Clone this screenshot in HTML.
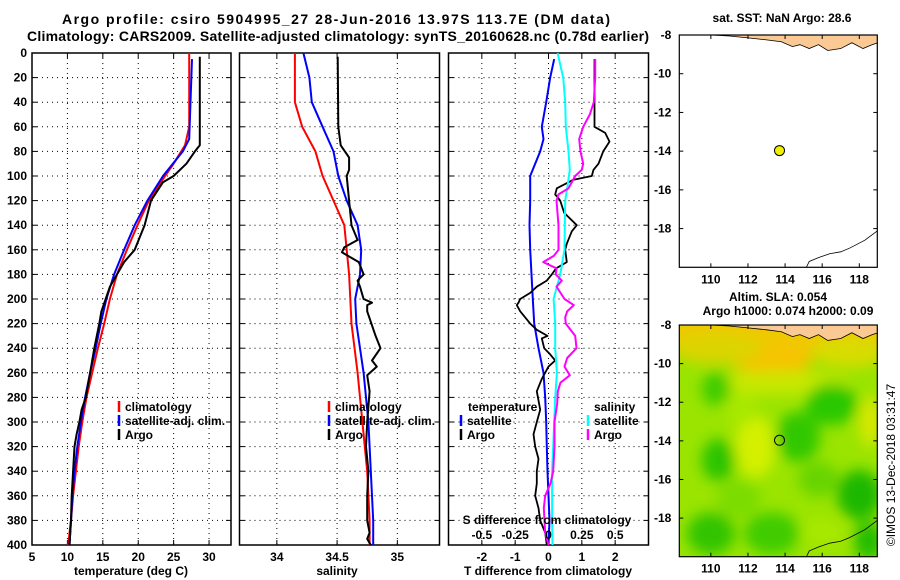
<!DOCTYPE html>
<html><head><meta charset="utf-8"><style>
html,body{margin:0;padding:0;background:#fff;}
svg{display:block;font-family:"Liberation Sans",sans-serif;font-weight:bold;}
</style></head><body>
<svg id="fig" width="900" height="580" viewBox="0 0 900 580">
<defs>
<filter id="blur" x="-20%" y="-20%" width="140%" height="140%"><feGaussianBlur stdDeviation="7"/></filter>
<clipPath id="clipMap2"><rect x="679" y="325" width="198" height="232"/></clipPath>
<clipPath id="clipMap1"><rect x="679" y="35" width="198" height="232"/></clipPath>
</defs>
<text x="336" y="24" text-anchor="middle" font-size="14" textLength="548">Argo profile: csiro 5904995_27 28-Jun-2016 13.97S 113.7E (DM data)</text>
<text x="338" y="41" text-anchor="middle" font-size="14" textLength="622">Climatology: CARS2009. Satellite-adjusted climatology: synTS_20160628.nc (0.78d earlier)</text>
<text x="782" y="22" text-anchor="middle" font-size="12">sat. SST: NaN Argo: 28.6</text>
<text x="778" y="301" text-anchor="middle" font-size="12">Altim. SLA: 0.054</text>
<text x="788" y="315" text-anchor="middle" font-size="12">Argo h1000: 0.074 h2000: 0.09</text>
<text transform="translate(895,465) rotate(-90)" text-anchor="middle" font-size="12" font-weight="normal">©IMOS 13-Dec-2018 03:31:47</text>
<g id="layer"></g>
</svg>
<script>
// ---- depth ticks ----
const depthTicks = [0,20,40,60,80,100,120,140,160,180,200,220,240,260,280,300,320,340,360,380,400];
// ---- temperature panel ----
const tempTicks = [5,10,15,20,25,30];
const tempClimDepth = [0,60,75,90,100,120,140,160,180,200,220,240,260,280,300,320,340,360,380,400];
const tempClim = [27.2,27.2,26.6,25.0,23.8,21.5,19.9,18.4,17.0,16.0,15.2,14.3,13.5,12.7,12.1,11.6,11.2,10.8,10.5,10.1];
const tempSatDepth = [5,70,80,100,120,140,160,180,200,220,240,260,280,300,320,340,360,380,400];
const tempSat = [27.6,27.2,26.3,23.5,21.3,19.5,18.0,16.6,15.5,14.7,14.0,13.2,12.5,11.9,11.4,11.0,10.7,10.5,10.3];
const tempArgoDepth = [3,75,80,90,100,105,120,140,160,170,180,190,200,210,220,240,260,280,290,300,310,320,340,360,380,400];
const tempArgo = [28.7,28.7,28.0,26.8,25.0,23.5,21.8,20.9,19.5,18.0,17.0,16.0,15.4,14.8,14.5,13.8,13.2,12.6,12.0,11.7,11.3,11.0,10.8,10.6,10.5,10.3];
// ---- salinity panel ----
const salTicks = [34,34.5,35];
const salTickLabels = ["34","34.5","35"];
const salClimDepth = [0,40,60,80,100,120,140,160,180,200,220,260,300,340,380,400];
const salClim = [34.15,34.15,34.21,34.32,34.38,34.47,34.56,34.58,34.60,34.61,34.62,34.67,34.71,34.75,34.77,34.77];
const salSatDepth = [0,20,40,60,80,100,120,140,160,180,200,220,260,300,340,380,400];
const salSat = [34.22,34.27,34.29,34.38,34.47,34.51,34.58,34.67,34.70,34.69,34.65,34.66,34.72,34.76,34.78,34.80,34.80];
const salArgoDepth = [3,60,75,85,95,100,120,140,152,158,162,170,180,185,190,200,203,205,210,230,240,250,255,262,275,300,320,340,360,380,390,395,400];
const salArgo = [34.505,34.51,34.53,34.60,34.60,34.58,34.60,34.62,34.67,34.56,34.54,34.68,34.72,34.67,34.69,34.72,34.79,34.75,34.75,34.82,34.86,34.79,34.83,34.75,34.77,34.75,34.74,34.76,34.75,34.75,34.77,34.75,34.78];
// ---- difference panel ----
const tdiffTicks = [-2,-1,0,1,2];
const sdiffTicks = [-0.5,-0.25,0,0.25,0.5];
const sdiffTickLabels = ["-0.5","-0.25","0","0.25","0.5"];
const tSatDiffDepth = [5,20,40,60,70,80,100,120,140,160,200,220,240,260,280,300,320,340,360,380,400];
const tSatDiff = [0.17,0.05,-0.07,-0.2,-0.15,-0.25,-0.55,-0.55,-0.57,-0.55,-0.47,-0.43,-0.3,-0.15,-0.1,-0.07,-0.05,-0.03,0.0,0.03,0.0];
const tArgoDiffDepth = [5,60,65,72,80,90,95,100,103,110,115,120,130,140,145,155,160,170,175,180,185,190,195,200,203,205,210,215,220,225,230,232,240,245,250,255,265,275,290,300,310,320,330,340,350,360,370,380,390,400];
const tArgoDiff = [1.38,1.38,1.7,1.83,1.64,1.5,1.35,1.3,0.75,0.25,0.2,0.35,0.47,0.85,0.7,0.55,0.5,0.55,0.23,0.1,-0.05,-0.35,-0.55,-0.85,-0.9,-0.95,-0.85,-0.7,-0.55,-0.35,-0.03,-0.2,-0.13,0.05,0.2,0.0,-0.2,-0.35,-0.25,-0.35,-0.45,-0.4,-0.3,-0.35,-0.35,-0.4,-0.3,-0.25,-0.1,-0.05];
const sSatDiffDepth = [0,20,40,60,80,95,110,120,160,180,200,220,240,260,280,300,320,340,360,380,400];
const sSatDiff = [0.068,0.11,0.125,0.13,0.15,0.16,0.14,0.125,0.12,0.088,0.038,0.05,0.05,0.063,0.05,0.043,0.035,0.027,0.027,0.027,0.03];
const sArgoDiffDepth = [5,20,40,50,60,70,80,90,95,100,110,115,120,140,160,165,170,175,180,185,190,200,205,210,215,220,230,240,248,255,262,268,275,285,300,320,340,350,360,370,380,390,400];
const sArgoDiff = [0.35,0.35,0.34,0.31,0.26,0.23,0.24,0.26,0.25,0.2,0.15,0.075,0.06,0.075,0.075,0.04,-0.04,0.06,0.055,0.1,0.06,0.12,0.19,0.14,0.125,0.13,0.2,0.21,0.14,0.12,0.16,0.09,0.07,0.065,0.045,0.045,0.035,0.015,-0.025,-0.035,-0.03,-0.025,0.0];
// ---- maps ----
const lonTicks = [110,112,114,116,118];
const latTicks = [-8,-10,-12,-14,-16,-18];
const argoLon = [113.7];
const argoLat = [-13.97];

const NS = "http://www.w3.org/2000/svg";
const layer = document.getElementById("layer");
function mk(tag, attrs, parent){ const e=document.createElementNS(NS,tag); for(const k in attrs) e.setAttribute(k,attrs[k]); (parent||layer).appendChild(e); return e; }

const Y0=53, Y1=545;
function yDepth(d){ return Y0 + (d/400)*(Y1-Y0); }
function linScale(d0,d1,r0,r1){ return v => r0 + (v-d0)/(d1-d0)*(r1-r0); }

function panel(name, x0, x1, xs, xticks, xlabels, showY){
  const g = mk("g",{});
  
  
  depthTicks.forEach(d=>{
    if(d>0 && d<400){ const l=mk("line",{x1:x0,x2:x1,y1:yDepth(d),y2:yDepth(d),stroke:"#000","stroke-width":1,"stroke-dasharray":"1,4"},g);
        }
    mk("line",{x1:x0,x2:x0+5,y1:yDepth(d),y2:yDepth(d),stroke:"#000"},g);
    mk("line",{x1:x1-5,x2:x1,y1:yDepth(d),y2:yDepth(d),stroke:"#000"},g);
    if(showY){ const t=mk("text",{x:x0-5,y:yDepth(d)+4,"text-anchor":"end","font-size":12},g); t.textContent=d;
        }
  });
  xticks.forEach((v,i)=>{
    const x=xs(v);
    if(x>x0+1 && x<x1-1){ const l=mk("line",{x1:x,x2:x,y1:Y0,y2:Y1,stroke:"#000","stroke-width":1,"stroke-dasharray":"1,4"},g);
        }
    mk("line",{x1:x,x2:x,y1:Y1,y2:Y1-5,stroke:"#000"},g);
    mk("line",{x1:x,x2:x,y1:Y0,y2:Y0+5,stroke:"#000"},g);
    const t=mk("text",{x:x,y:561,"text-anchor":"middle","font-size":12},g); t.textContent=xlabels[i];
     
  });
  const r=mk("rect",{x:x0,y:Y0,width:x1-x0,height:Y1-Y0,fill:"none",stroke:"#000","stroke-width":1.5},g);
   
  return g;
}
function line(g, xs, vals, depths, color, w, name){
  const pts = vals.map((v,i)=> xs(v).toFixed(1)+","+yDepth(depths[i]).toFixed(1)).join(" ");
  const p = mk("polyline",{points:pts,fill:"none",stroke:color,"stroke-width":w,"stroke-linejoin":"round"},g);
  
  
}
function label(g,x,y,txt,name,anchor,size){
  const t=mk("text",{x:x,y:y,"text-anchor":anchor||"start","font-size":size||12},g); t.textContent=txt;
  
  
  return t;
}
function legendEntry(g,xm,y,color,txt,name){
  const m=mk("line",{x1:xm,x2:xm,y1:y-10,y2:y+1,stroke:color,"stroke-width":2.5},g);
  
  
  if(txt!==null) label(g,xm+6,y,txt,name);
}

// Panel 1
const xT = linScale(5,33.1,32,231);
const p1 = panel("temperature-panel",32,231,xT,tempTicks,tempTicks.map(String),true);
line(p1,xT,tempClim,tempClimDepth,"#f00",2,"temperature-climatology-line");
line(p1,xT,tempSat,tempSatDepth,"#00f",2,"temperature-satellite-line");
line(p1,xT,tempArgo,tempArgoDepth,"#000",2,"temperature-argo-line");
label(p1,131,575,"temperature (deg C)","temperature-axis-title","middle");
legendEntry(p1,119,411,"#f00","climatology","legend-climatology");
legendEntry(p1,119,425,"#00f","satellite-adj. clim.","legend-satellite-adj");
legendEntry(p1,119,439,"#000","Argo","legend-argo");

// Panel 2
const xS = linScale(33.69,35.35,239.5,439.5);
const p2 = panel("salinity-panel",239.5,439.5,xS,salTicks,salTickLabels,false);
line(p2,xS,salClim,salClimDepth,"#f00",2,"salinity-climatology-line");
line(p2,xS,salSat,salSatDepth,"#00f",2,"salinity-satellite-line");
line(p2,xS,salArgo,salArgoDepth,"#000",2,"salinity-argo-line");
label(p2,337,575,"salinity","salinity-axis-title","middle");
legendEntry(p2,329,411,"#f00","climatology","legend-climatology");
legendEntry(p2,329,425,"#00f","satellite-adj. clim.","legend-satellite-adj");
legendEntry(p2,329,439,"#000","Argo","legend-argo");

// Panel 3
const xD = linScale(-3,3,448.5,648.5);
const xSd = v => xD(v*4);
const p3 = panel("difference-panel",448.5,648.5,xD,tdiffTicks,tdiffTicks.map(String),false);
line(p3,xD,tSatDiff,tSatDiffDepth,"#00f",2,"t-diff-satellite-line");
line(p3,xD,tArgoDiff,tArgoDiffDepth,"#000",1.8,"t-diff-argo-line");
line(p3,xSd,sSatDiff,sSatDiffDepth,"#0ff",2,"s-diff-satellite-line");
line(p3,xSd,sArgoDiff,sArgoDiffDepth,"#f0f",2,"s-diff-argo-line");
label(p3,548,575,"T difference from climatology","t-diff-axis-title","middle");
label(p3,547,524,"S difference from climatology","s-diff-axis-title","middle");
sdiffTicks.forEach((v,i)=>{ label(p3,xSd(v),539,sdiffTickLabels[i],"s-diff-tick-label","middle"); });
label(p3,468,411,"temperature","legend-temperature-header");
legendEntry(p3,461,425,"#00f","satellite","legend-t-satellite");
legendEntry(p3,461,439,"#000","Argo","legend-t-argo");
label(p3,594,411,"salinity","legend-salinity-header");
legendEntry(p3,588,425,"#0ff","satellite","legend-s-satellite");
legendEntry(p3,588,439,"#f0f","Argo","legend-s-argo");

// Maps
function map(name, top, bottom, filled){
  const L=679.3,R=877.3;
  const xl=linScale(108.3,118.97,L,R), yl=linScale(-8,-20,top,bottom);
  const g=mk("g",{});
  
  
  const cg = mk("g",{"clip-path":filled?"url(#clipMap2)":"url(#clipMap1)"},g);
  if(filled){
    mk("rect",{x:L,y:top,width:R-L,height:bottom-top,fill:"#9ae400"},cg);
    const fg=mk("g",{filter:"url(#blur)"},cg);
    const blobs=[[113.5,-8.3,6.5,1.2,"#f0c800"],[113.3,-9.8,2.2,0.8,"#f5c400"],[110.3,-9.2,2.5,0.8,"#dcd400"],[117.5,-9.4,2,0.8,"#d8dc00"],
      [113.5,-11,4,0.6,"#c8e800"],
      [110.3,-11.3,0.8,0.9,"#3ccc00"],[116.5,-12.1,1.4,1.1,"#2cc800"],[114.7,-13.8,1.2,1.3,"#30c800"],[110.4,-15,0.9,1.1,"#2cc400"],
      [112.4,-14.3,1.1,1.6,"#d4f000"],[118.6,-13,0.6,1.3,"#d8e800"],[118,-16.8,1.2,1.3,"#1cb800"],[110,-18.8,1.3,1.1,"#30c400"],
      [113.3,-18.8,1.5,1.1,"#40cc00"],[115.8,-16,1.1,0.9,"#66d400"],[116,-18.7,1.2,0.7,"#a8e800"],[118.5,-19.2,0.8,1,"#24bc00"],[111.6,-12.3,0.9,0.9,"#a8e800"],[111.5,-17,1.2,1,"#7cdc00"]];
    blobs.forEach(b=>{ const e=mk("ellipse",{cx:xl(b[0]),cy:yl(b[1]),rx:(xl(b[0]+b[2])-xl(b[0])),ry:(yl(b[1]-b[3])-yl(b[1])),fill:b[4]},fg);
        });
  }
  // coastline land
  const land=[[110,-8],[111,-8.05],[112,-8.15],[113,-8.25],[113.8,-8.35],[114.4,-8.6],[114.8,-8.5],[115.3,-8.7],[115.8,-8.5],[116.3,-8.8],[117,-8.7],[117.6,-8.4],[118.2,-8.7],[118.7,-8.5],[119,-8.4],[119,-7.9],[110,-7.9]];
  const lp=mk("polygon",{points:land.map(p=>xl(p[0])+","+yl(p[1])).join(" "),fill:"#fbc994",stroke:"#000","stroke-width":0.8},cg);
   
  const aus=[[115.1,-20.1],[115.3,-19.7],[115.8,-19.5],[116.4,-19.3],[117,-19.2],[117.5,-19],[118.3,-18.6],[119,-18.1]];
  const ap=mk("polyline",{points:aus.map(p=>xl(p[0])+","+yl(p[1])).join(" "),fill:"none",stroke:"#000","stroke-width":0.8},cg);
   
  argoLon.forEach((lo,i)=>{
    const c=mk("circle",{cx:xl(lo),cy:yl(argoLat[i]),r:5,fill:filled?"none":"#f0f000",stroke:"#000","stroke-width":1},g);
     
  });
  mk("rect",{x:L,y:top,width:R-L,height:bottom-top,fill:"none",stroke:"#000","stroke-width":1.2},g);
  lonTicks.forEach(v=>{ mk("line",{x1:xl(v),x2:xl(v),y1:bottom,y2:bottom-4,stroke:"#000"},g); mk("line",{x1:xl(v),x2:xl(v),y1:top,y2:top+4,stroke:"#000"},g);
    label(g,xl(v),bottom+16,String(v),"longitude-tick-label","middle"); });
  latTicks.forEach(v=>{ mk("line",{x1:L,x2:L+4,y1:yl(v),y2:yl(v),stroke:"#000"},g); mk("line",{x1:R,x2:R-4,y1:yl(v),y2:yl(v),stroke:"#000"},g);
    label(g,L-8,yl(v)+4,String(v),"latitude-tick-label","end"); });
}
map("sst-map",35,267.3,false);
map("sla-map",325,556.7,true);
</script>
</body></html>
